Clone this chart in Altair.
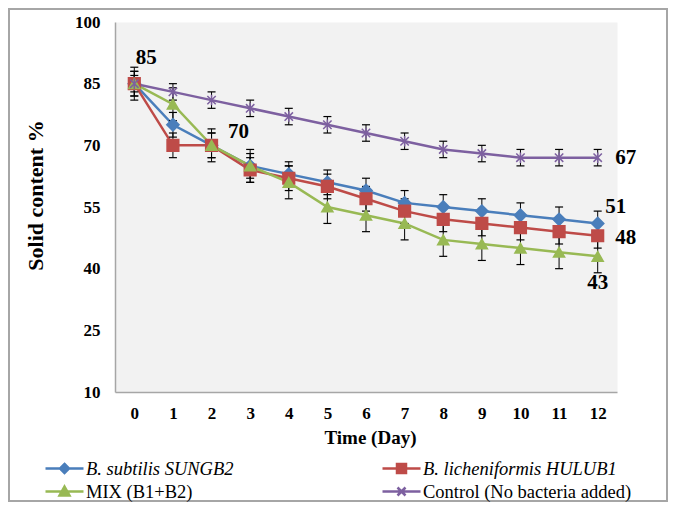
import altair as alt
import pandas as pd

# ---------------- data ----------------
days = list(range(13))
series_names = ["B. subtilis SUNGB2", "B. licheniformis HULUB1",
                "MIX (B1+B2)", "Control (No bacteria added)"]
subtilis = [85, 75, 70, 65, 63, 61, 59, 56, 55, 54, 53, 52, 51]
licheniformis = [85, 70, 70, 64, 62, 60, 57, 54, 52, 51, 50, 49, 48]
mix = [85, 80, 70, 65, 61, 55, 53, 51, 47, 46, 45, 44, 43]
control = [85, 83, 81, 79, 77, 75, 73, 71, 69, 68, 67, 67, 67]
errors = [3, 3, 4, 2]
y_ticks = [10, 25, 40, 55, 70, 85, 100]

label_text = ["85", "70", "67", "51", "48", "43"]
label_series = [3, 2, 3, 0, 1, 2]
label_day = [0, 2, 12, 12, 12, 12]

# ---------------- styles ----------------
colors = ["#4A7EBB", "#BE4B48", "#98B954", "#7D60A0"]
FONT = "Liberation Serif"
label_dx = [12, 27, 28, 18, 28, 0]
label_dy = [-26, -13, 0, -16, 2, 27]

asterisk = "M-0.8,-0.8L0.8,0.8M-0.8,0.8L0.8,-0.8M0,-1L0,1"
point_shapes = ["diamond", "square", "triangle-up", asterisk]
point_sizes = [150, 110, 170, 150]

legend_shapes = [
    "M-1.9,0L1.9,0M0,-0.45L0.45,0L0,0.45L-0.45,0Z",
    "M-1.9,0L1.9,0M-0.45,-0.45L0.45,-0.45L0.45,0.45L-0.45,0.45Z",
    "M-1.9,0L1.9,0M0,-0.5L0.5,0.4L-0.5,0.4Z",
    "M-1.9,0L1.9,0M-0.4,-0.4L0.4,0.4M-0.4,0.4L0.4,-0.4",
]

all_vals = [subtilis, licheniformis, mix, control]
rows = []
for s, name in enumerate(series_names):
    for d, v in zip(days, all_vals[s]):
        rows.append({"day": d, "series": name, "order": s, "value": v,
                     "lo": v - errors[s], "hi": v + errors[s]})
df = pd.DataFrame(rows)

x_enc = alt.X("day:Q", scale=alt.Scale(domain=[-0.5, 12.5], nice=False),
              axis=alt.Axis(values=days, format="d", grid=False, ticks=False,
                            labelFont=FONT, labelFontSize=17, labelFontWeight="bold",
                            labelColor="black", labelPadding=13,
                            domainColor="#A6A6A6", domainWidth=1.5,
                            title="Time (Day)", titleFont=FONT, titleFontSize=19,
                            titleFontWeight="bold", titleColor="black", titlePadding=7,
                            titleX=255))
y_scale = alt.Scale(domain=[10, 100], nice=False)
y_enc = alt.Y("value:Q", scale=y_scale,
              axis=alt.Axis(values=y_ticks, grid=False, ticks=False,
                            labelFont=FONT, labelFontSize=17, labelFontWeight="bold",
                            labelColor="black", labelPadding=15,
                            domainColor="#A6A6A6", domainWidth=1.5,
                            title="Solid content %", titleFont=FONT, titleFontSize=22,
                            titleFontWeight="bold", titleColor="black", titlePadding=27,
                            titleY=173))

ser_scale = alt.Scale(domain=series_names, range=colors)

base = alt.Chart(df)

lines = base.mark_line(strokeWidth=2.5).encode(
    x=x_enc, y=y_enc,
    color=alt.Color("series:N", scale=ser_scale, legend=None, sort=series_names),
    order="day:Q",
)

err_rule = base.mark_rule(color="black", strokeWidth=1).encode(
    x="day:Q", y=alt.Y("lo:Q", scale=y_scale), y2="hi:Q")
cap_lo = base.mark_tick(color="black", size=8, thickness=1.2, orient="horizontal",
                        opacity=1).encode(x="day:Q", y=alt.Y("lo:Q", scale=y_scale))
cap_hi = base.mark_tick(color="black", size=8, thickness=1.2, orient="horizontal",
                        opacity=1).encode(x="day:Q", y=alt.Y("hi:Q", scale=y_scale))

points = base.mark_point(filled=True, opacity=1, strokeWidth=1.5).encode(
    x="day:Q", y=alt.Y("value:Q", scale=y_scale),
    fill=alt.Fill("series:N", scale=ser_scale, legend=None),
    stroke=alt.Stroke("series:N", scale=ser_scale, legend=None),
    shape=alt.Shape("series:N", scale=alt.Scale(domain=series_names, range=point_shapes), legend=None),
    size=alt.Size("series:N", scale=alt.Scale(domain=series_names, range=point_sizes), legend=None),
)

leg = alt.Legend(title=None, orient="none", direction="horizontal", legendX=-62, legendY=435,
                 columns=2, columnPadding=143, rowPadding=2, symbolSize=400,
                 symbolStrokeWidth=2.5, symbolOpacity=1, labelFont=FONT, labelFontSize=18.5,
                 labelColor="black", labelOffset=10, padding=0, labelLimit=400,
                 labelFontStyle={"expr": "slice(datum.label, 0, 2) === 'B.' ? 'italic' : 'normal'"})

legend_layer = base.transform_filter("datum.day < 0").mark_point(
    filled=True, opacity=1, strokeWidth=2.5, size=400).encode(
    x="day:Q", y=alt.Y("value:Q", scale=y_scale),
    fill=alt.Fill("series:N", scale=ser_scale, legend=leg),
    stroke=alt.Stroke("series:N", scale=ser_scale, legend=leg),
    shape=alt.Shape("series:N", scale=alt.Scale(domain=series_names, range=legend_shapes), legend=leg),
)

text_layers = []
for t, s, d, dx, dy in zip(label_text, label_series, label_day, label_dx, label_dy):
    sub = df[(df["series"] == series_names[s]) & (df["day"] == d)].copy()
    sub["txt"] = t
    text_layers.append(
        alt.Chart(sub).mark_text(font=FONT, fontSize=21, fontWeight="bold", color="black",
                                 align="center", baseline="middle", dx=dx, dy=dy).encode(
            x="day:Q", y=alt.Y("value:Q", scale=y_scale), text="txt:N"))

border = alt.Chart(pd.DataFrame({"a": [0]})).mark_rect(
    fillOpacity=0, stroke="#A6A6A6", strokeWidth=2).encode(
    x=alt.value(-106), x2=alt.value(552), y=alt.value(-13), y2=alt.value(479))

chart = alt.layer(lines, err_rule, cap_lo, cap_hi, points, legend_layer, *text_layers, border).resolve_scale(
    shape="independent", fill="independent", stroke="independent", size="independent"
).properties(
    width=502, height=370,
    padding={"left": 107, "top": 14, "right": 51, "bottom": 110},
    autosize=alt.AutoSizeParams(type="none"),
    background="white",
).configure_view(fill="#F2F2F2", stroke="transparent")

chart.save("out.html", embed_options={"renderer": "svg", "actions": False})
